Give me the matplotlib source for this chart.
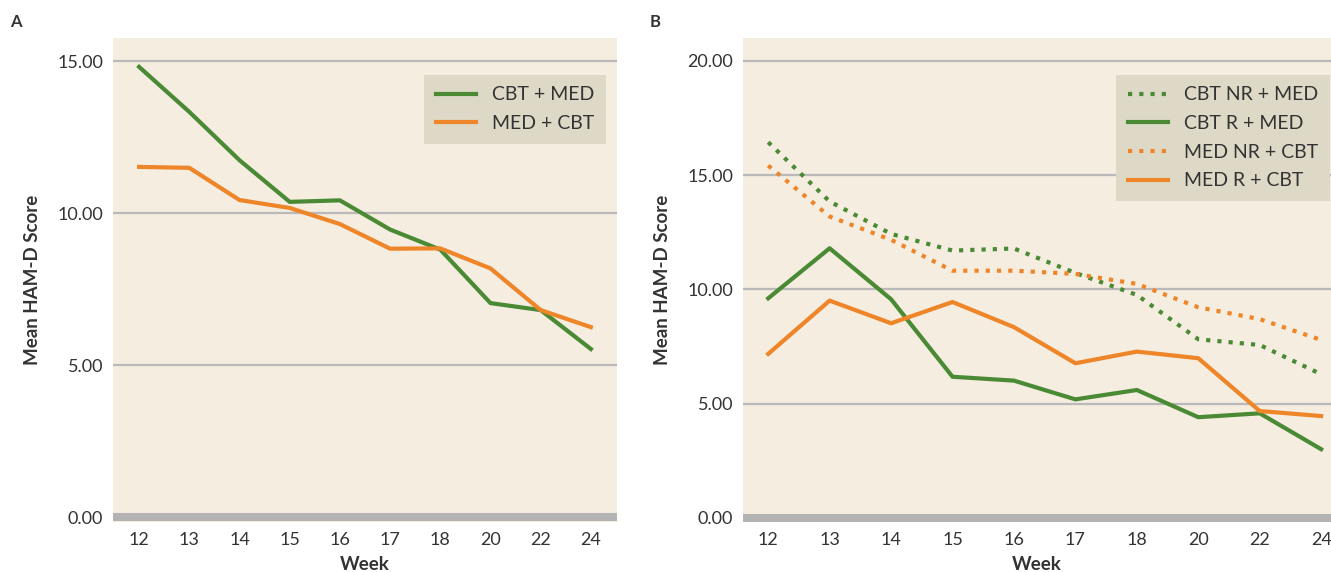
import matplotlib.pyplot as plt
import numpy as np

plt.rcParams['font.family'] = ['Lato', 'DejaVu Sans']

weeks = ['12', '13', '14', '15', '16', '17', '18', '20', '22', '24']

# Panel A
cbt_med = [14.81, 13.33, 11.74, 10.37, 10.42, 9.46, 8.80, 7.04, 6.81, 5.53]
med_cbt = [11.52, 11.49, 10.43, 10.17, 9.64, 8.83, 8.84, 8.18, 6.81, 6.25]

# Panel B
cbt_nr_med = [16.44, 13.85, 12.43, 11.70, 11.79, 10.72, 9.76, 7.82, 7.57, 6.29]
cbt_r_med = [9.61, 11.80, 9.57, 6.18, 6.01, 5.19, 5.60, 4.41, 4.58, 3.01]
med_nr_cbt = [15.42, 13.19, 12.17, 10.82, 10.82, 10.68, 10.24, 9.22, 8.70, 7.79]
med_r_cbt = [7.18, 9.51, 8.52, 9.45, 8.35, 6.77, 7.28, 6.99, 4.68, 4.46]

GREEN = '#4b8a34'
ORANGE = '#ef8529'
BG = '#f4ede0'
LEG_BG = '#ddd9c6'
GRID = '#b9b9b9'
TXT = '#333333'

W, H = 1331, 572
fig = plt.figure(figsize=(W / 100, H / 100), dpi=100)


def frac(x0, y0, x1, y1):
    return [x0 / W, 1 - y1 / H, (x1 - x0) / W, (y1 - y0) / H]


def style_axes(ax, yticks, ylim, xlim):
    ax.set_facecolor(BG)
    for s in ax.spines.values():
        s.set_visible(False)
    x = np.arange(len(weeks))
    ax.set_xticks(x)
    ax.set_xticklabels(weeks)
    ax.set_yticks(yticks)
    ax.set_yticklabels(['%.2f' % v for v in yticks])
    ax.set_xlim(*xlim)
    ax.set_ylim(*ylim)
    for v in yticks[1:]:
        ax.axhline(v, color=GRID, lw=1.6, zorder=1)
    ax.axhline(0, color='#b3b3b3', lw=5.8, zorder=1)
    ax.tick_params(length=0, labelsize=13, colors=TXT, pad=7)
    ax.tick_params(axis='x', pad=7)
    ax.set_xlabel('Week', fontsize=13.5, fontweight='bold', color=TXT, labelpad=6)
    ax.set_ylabel('Mean HAM-D Score', fontsize=13.5, fontweight='bold', color=TXT, labelpad=12)
    return x


def add_legend(ax, anchor):
    leg = ax.legend(loc='upper right', bbox_to_anchor=anchor, fontsize=14,
                    frameon=True, fancybox=False, framealpha=1, facecolor=LEG_BG,
                    edgecolor='none', handlelength=2.1, handletextpad=0.8,
                    borderpad=0.6, labelspacing=0.6, borderaxespad=0)
    for t in leg.get_texts():
        t.set_color(TXT)
    return leg


# ---- Panel A ----
axA = fig.add_axes(frac(113, 38, 617, 522))
x = style_axes(axA, [0, 5, 10, 15], (-0.16, 15.76), (-0.52, 9.52))
axA.plot(x, cbt_med, color=GREEN, lw=3, label='CBT + MED', zorder=3)
axA.plot(x, med_cbt, color=ORANGE, lw=3, label='MED + CBT', zorder=3)
add_legend(axA, (0.978, 0.924))
fig.text(10 / W, 1 - 22 / H, 'A', fontsize=12, fontweight='bold', color=TXT, va='center')

# ---- Panel B ----
axB = fig.add_axes(frac(743, 38, 1331, 522))
x = style_axes(axB, [0, 5, 10, 15, 20], (-0.175, 21.0), (-0.41, 9.16))
axB.plot(x, cbt_nr_med, color=GREEN, lw=3, ls=(0, (1, 1.7)), label='CBT NR + MED', zorder=3)
axB.plot(x, cbt_r_med, color=GREEN, lw=3, label='CBT R + MED', zorder=3)
axB.plot(x, med_nr_cbt, color=ORANGE, lw=3, ls=(0, (1, 1.7)), label='MED NR + CBT', zorder=3)
axB.plot(x, med_r_cbt, color=ORANGE, lw=3, label='MED R + CBT', zorder=3)
add_legend(axB, (0.998, 0.924))
fig.text(650 / W, 1 - 22 / H, 'B', fontsize=12, fontweight='bold', color=TXT, va='center')

fig.savefig('out.png', dpi=100)
